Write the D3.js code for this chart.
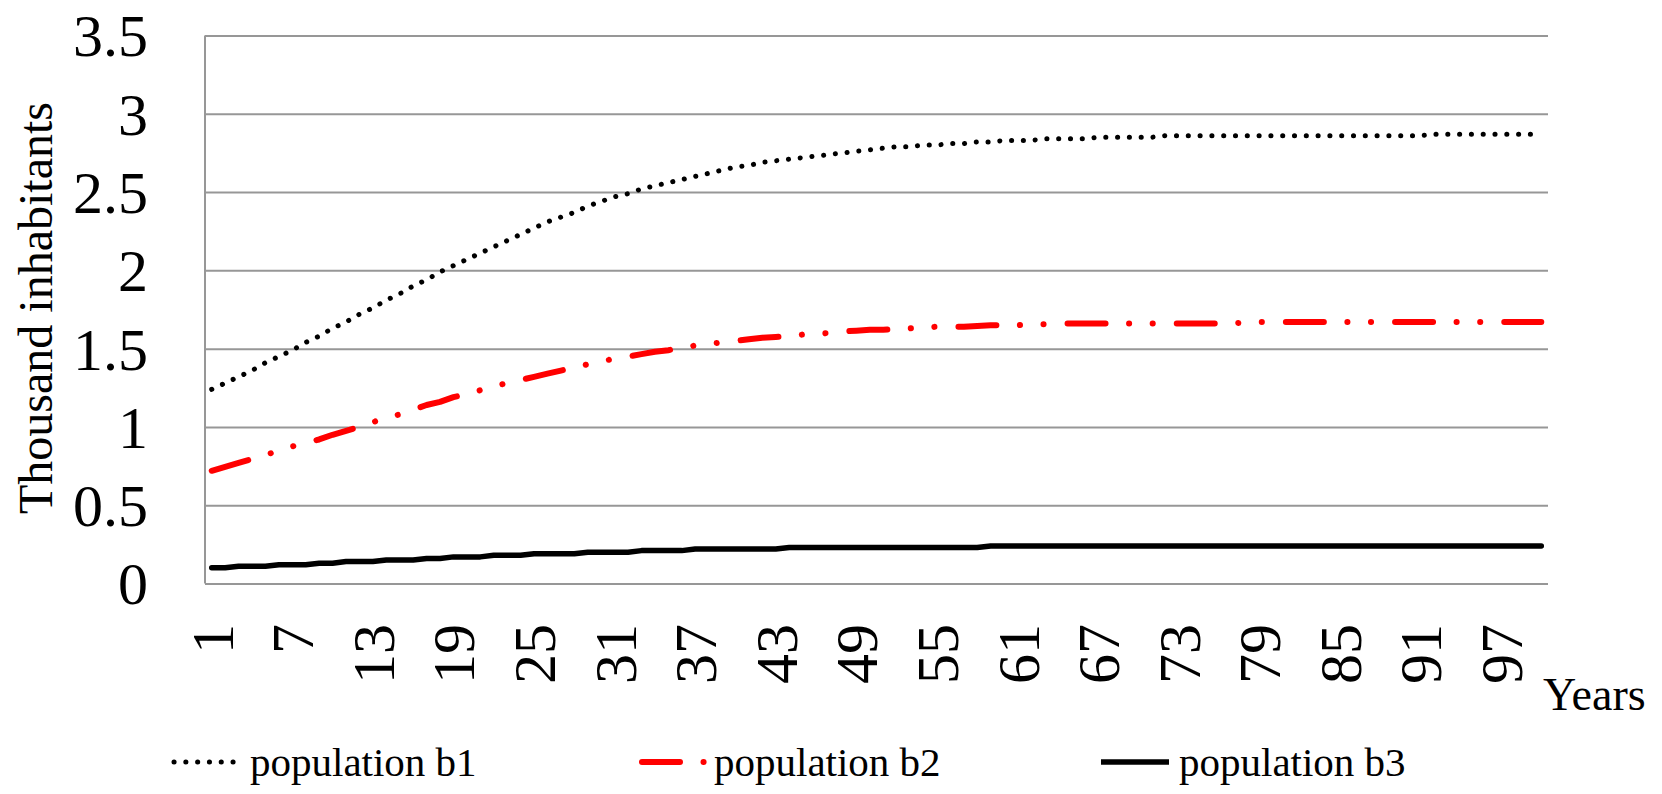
<!DOCTYPE html>
<html>
<head>
<meta charset="utf-8">
<script src="https://cdn.jsdelivr.net/npm/d3@7"></script>
<style>
  html, body { margin: 0; padding: 0; background: #fff; }
  svg { display: block; }
  text { font-family: "Liberation Serif", "Times New Roman", serif; fill: #000; }
</style>
</head>
<body>
<script>
// Years 1..100 (category axis)
var years = d3.range(1, 101);
var xTickLabels = [1, 7, 13, 19, 25, 31, 37, 43, 49, 55, 61, 67, 73, 79, 85, 91, 97];
var yTickValues = [0, 0.5, 1, 1.5, 2, 2.5, 3, 3.5];

var seriesNames = ["population b1", "population b2", "population b3"];

// thousand inhabitants
var b1 = [
    1.24, 1.28, 1.32, 1.36, 1.41, 1.45, 1.49, 1.54, 1.58, 1.63,
    1.67, 1.72, 1.76, 1.81, 1.85, 1.90, 1.94, 1.99, 2.03, 2.07,
    2.11, 2.15, 2.19, 2.23, 2.27, 2.31, 2.34, 2.37, 2.41, 2.44,
    2.47, 2.49, 2.52, 2.54, 2.56, 2.58, 2.60, 2.62, 2.64, 2.66,
    2.67, 2.69, 2.70, 2.71, 2.72, 2.73, 2.74, 2.75, 2.76, 2.77,
    2.78, 2.79, 2.79, 2.80, 2.80, 2.81, 2.81, 2.82, 2.82, 2.83,
    2.83, 2.83, 2.84, 2.84, 2.84, 2.84, 2.85, 2.85, 2.85, 2.85,
    2.85, 2.86, 2.86, 2.86, 2.86, 2.86, 2.86, 2.86, 2.86, 2.86,
    2.86, 2.86, 2.86, 2.86, 2.86, 2.86, 2.86, 2.86, 2.86, 2.86,
    2.86, 2.87, 2.87, 2.87, 2.87, 2.87, 2.87, 2.87, 2.87, 2.87
];

var b2 = [
    0.72, 0.745, 0.77, 0.795, 0.82, 0.85, 0.875, 0.90, 0.92, 0.95,
    0.975, 1.00, 1.03, 1.06, 1.08, 1.11, 1.14, 1.16, 1.19, 1.21,
    1.235, 1.26, 1.28, 1.30, 1.32, 1.34, 1.36, 1.38, 1.40, 1.42,
    1.435, 1.45, 1.465, 1.48, 1.49, 1.505, 1.52, 1.53, 1.54, 1.55,
    1.56, 1.57, 1.575, 1.58, 1.59, 1.595, 1.60, 1.61, 1.615, 1.62,
    1.62, 1.625, 1.63, 1.635, 1.64, 1.64, 1.64, 1.645, 1.65, 1.65,
    1.65, 1.655, 1.655, 1.66, 1.66, 1.66, 1.66, 1.66, 1.66, 1.66,
    1.66, 1.66, 1.66, 1.66, 1.66, 1.66, 1.66, 1.67, 1.67, 1.67,
    1.67, 1.67, 1.67, 1.67, 1.67, 1.67, 1.67, 1.67, 1.67, 1.67,
    1.67, 1.67, 1.67, 1.67, 1.67, 1.67, 1.67, 1.67, 1.67, 1.67
];

var b3 = [
    0.10, 0.10, 0.11, 0.11, 0.11, 0.12, 0.12, 0.12, 0.13, 0.13,
    0.14, 0.14, 0.14, 0.15, 0.15, 0.15, 0.16, 0.16, 0.17, 0.17,
    0.17, 0.18, 0.18, 0.18, 0.19, 0.19, 0.19, 0.19, 0.20, 0.20,
    0.20, 0.20, 0.21, 0.21, 0.21, 0.21, 0.22, 0.22, 0.22, 0.22,
    0.22, 0.22, 0.22, 0.23, 0.23, 0.23, 0.23, 0.23, 0.23, 0.23,
    0.23, 0.23, 0.23, 0.23, 0.23, 0.23, 0.23, 0.23, 0.24, 0.24,
    0.24, 0.24, 0.24, 0.24, 0.24, 0.24, 0.24, 0.24, 0.24, 0.24,
    0.24, 0.24, 0.24, 0.24, 0.24, 0.24, 0.24, 0.24, 0.24, 0.24,
    0.24, 0.24, 0.24, 0.24, 0.24, 0.24, 0.24, 0.24, 0.24, 0.24,
    0.24, 0.24, 0.24, 0.24, 0.24, 0.24, 0.24, 0.24, 0.24, 0.24
];

var w = 1662;
var h = 794;

// plot box (don't call these top/left, window.top is taken)
var plotL = 205, plotR = 1548, plotT = 35.5, plotB = 583.5;

var svgCanvas = d3.select("body")
    .append("svg")
    .attr("width", w)
    .attr("height", h);

var xScale = d3.scaleBand()
    .domain(years)
    .range([plotL, plotR])
    .padding(0);

var yScale = d3.scaleLinear()
    .domain([0, 3.5])
    .range([plotB, plotT]);

function cx(d) {
    return xScale(d) + xScale.bandwidth() / 2;
}

// gridlines + y labels
var yAxis = svgCanvas.append("g")
    .attr("transform", "translate(" + plotL + ",0)")
    .call(d3.axisLeft(yScale)
        .tickValues(yTickValues)
        .tickSize(-(plotR - plotL))
        .tickPadding(57)
        .tickFormat(d3.format("")));

yAxis.select(".domain").remove();
yAxis.selectAll(".tick line")
    .attr("stroke", "#979797")
    .attr("stroke-width", 2);
yAxis.selectAll(".tick text")
    .attr("font-size", 60)
    .attr("dy", "0.34em")
    .style("font-family", "'Liberation Serif', 'Times New Roman', serif");

// left axis line
svgCanvas.append("line")
    .attr("x1", plotL).attr("x2", plotL)
    .attr("y1", plotT).attr("y2", plotB)
    .attr("stroke", "#979797")
    .attr("stroke-width", 2);

// x labels (rotated)
svgCanvas.append("g")
    .selectAll("text")
    .data(xTickLabels)
    .enter()
    .append("text")
    .attr("transform", function(d) {
        return "translate(" + cx(d) + "," + 624 + ") rotate(-90)";
    })
    .attr("text-anchor", "end")
    .attr("dy", "0.35em")
    .attr("font-size", 60)
    .text(function(d) { return d; });

svgCanvas.append("text")
    .attr("x", 1543)
    .attr("y", 710)
    .attr("font-size", 46)
    .text("Years");

svgCanvas.append("text")
    .attr("transform", "translate(52,308) rotate(-90)")
    .attr("text-anchor", "middle")
    .attr("font-size", 48)
    .text("Thousand inhabitants");

// line styles
var styles = [
    { color: "#000", width: 5, dash: "0.1,11.7" },
    { color: "#ff0000", width: 6, dash: "38,23.5,0.1,23.5,0.1,24" },
    { color: "#000", width: 5.5, dash: null }
];
var series = [b1, b2, b3];

var line = d3.line()
    .x(function(d, i) { return cx(years[i]); })
    .y(function(d) { return yScale(d); });

series.forEach(function(vals, k) {
    svgCanvas.append("path")
        .datum(vals)
        .attr("d", line)
        .attr("fill", "none")
        .attr("stroke", styles[k].color)
        .attr("stroke-width", styles[k].width)
        .attr("stroke-linecap", "round")
        .attr("stroke-linejoin", "round")
        .attr("stroke-dasharray", styles[k].dash);
});

// legend
var legX = [174, 642, 1101];
var legLen = [60, 62, 68];
var legText = [250, 714, 1179];
var legY = 762;

seriesNames.forEach(function(name, k) {
    svgCanvas.append("line")
        .attr("x1", legX[k])
        .attr("x2", legX[k] + legLen[k])
        .attr("y1", legY).attr("y2", legY)
        .attr("stroke", styles[k].color)
        .attr("stroke-width", styles[k].width)
        .attr("stroke-linecap", k == 2 ? "butt" : "round")
        .attr("stroke-dasharray", styles[k].dash);
    svgCanvas.append("text")
        .attr("x", legText[k])
        .attr("y", 776)
        .attr("font-size", 41)
        .text(name);
});
</script>
</body>
</html>
